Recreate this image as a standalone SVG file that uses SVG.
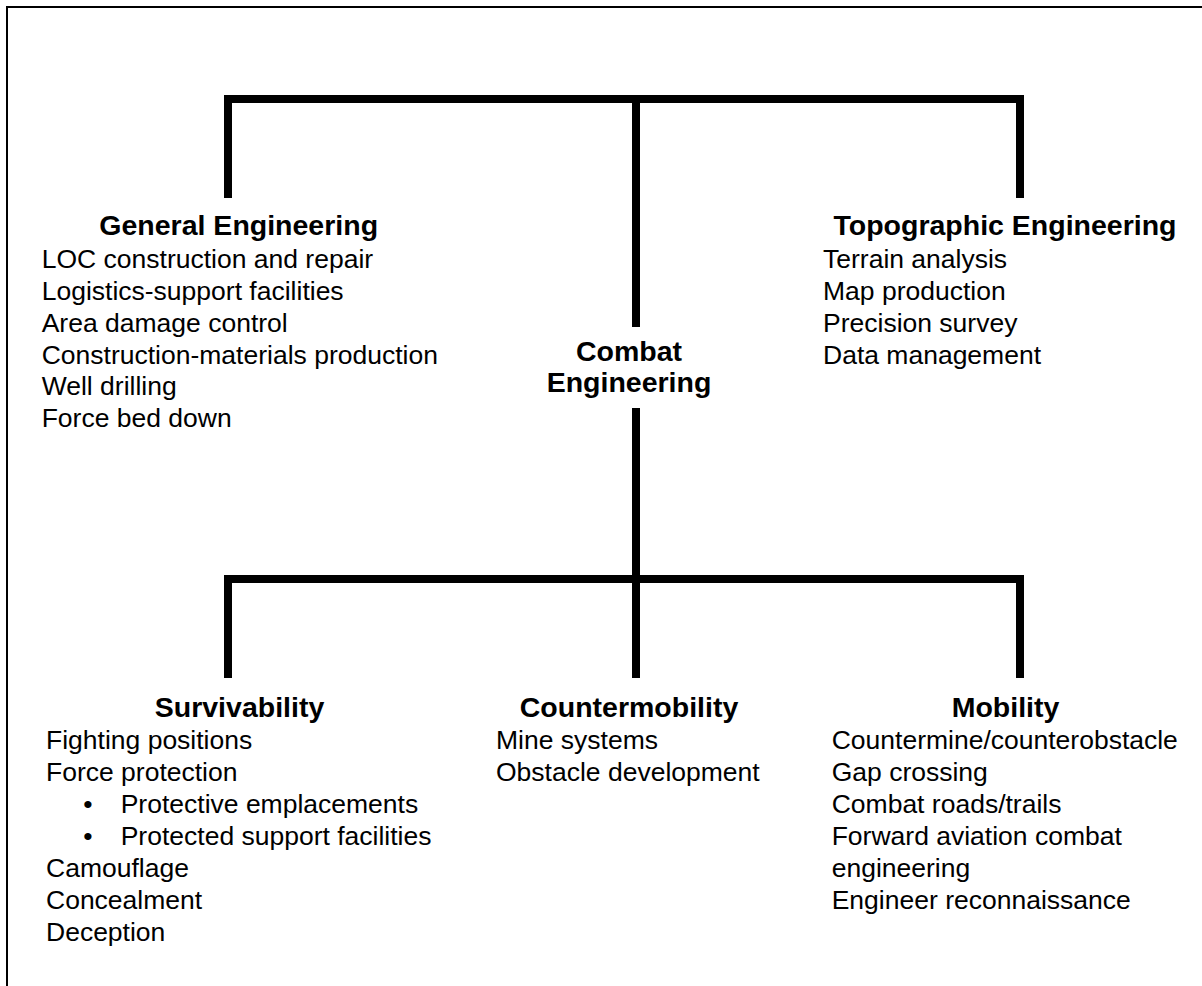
<svg xmlns="http://www.w3.org/2000/svg" width="1202" height="986" viewBox="0 0 1202 986">
<style>
text { font-family: "Liberation Sans", Arial, sans-serif; fill: #000; }
.h { font-weight: bold; font-size: 28.5px; text-anchor: middle; }
.t { font-size: 26.5px; }
.b { font-size: 26.5px; text-anchor: middle; }
.c { fill: none; stroke: #000; stroke-width: 8; stroke-linecap: butt; stroke-linejoin: miter; }
</style>
<rect width="1202" height="986" fill="#fff"/>
<path d="M7,986 V7 H1202" fill="none" stroke="#000" stroke-width="2"/>
<g id="connectors">
<path class="c" d="M228,198 V99 H1020 V198"/>
<path class="c" d="M636,99 V327"/>
<path class="c" d="M636,408 V678"/>
<path class="c" d="M228,678 V579 H1020 V678"/>
</g>
<g id="general-engineering">
<text class="h" x="238.7" y="235">General Engineering</text>
<text class="t" x="41.7" y="268">LOC construction and repair</text>
<text class="t" x="41.7" y="300">Logistics-support facilities</text>
<text class="t" x="41.7" y="331.7">Area damage control</text>
<text class="t" x="41.7" y="363.5">Construction-materials production</text>
<text class="t" x="41.7" y="395">Well drilling</text>
<text class="t" x="41.7" y="427">Force bed down</text>
</g>
<g id="topographic-engineering">
<text class="h" x="1005" y="235">Topographic Engineering</text>
<text class="t" x="823" y="268">Terrain analysis</text>
<text class="t" x="823" y="300">Map production</text>
<text class="t" x="823" y="331.7">Precision survey</text>
<text class="t" x="823" y="363.5">Data management</text>
</g>
<g id="combat-engineering">
<text class="h" x="629" y="361">Combat</text>
<text class="h" x="629" y="392">Engineering</text>
</g>
<g id="survivability">
<text class="h" x="239.5" y="717">Survivability</text>
<text class="t" x="46" y="749">Fighting positions</text>
<text class="t" x="46" y="781">Force protection</text>
<text class="b" x="88" y="813">•</text>
<text class="t" x="120.7" y="813">Protective emplacements</text>
<text class="b" x="88" y="845">•</text>
<text class="t" x="120.7" y="845">Protected support facilities</text>
<text class="t" x="46" y="877">Camouflage</text>
<text class="t" x="46" y="909">Concealment</text>
<text class="t" x="46" y="941">Deception</text>
</g>
<g id="countermobility">
<text class="h" x="629" y="717">Countermobility</text>
<text class="t" x="496" y="749">Mine systems</text>
<text class="t" x="496" y="781">Obstacle development</text>
</g>
<g id="mobility">
<text class="h" x="1005.5" y="717">Mobility</text>
<text class="t" x="831.7" y="749">Countermine/counterobstacle</text>
<text class="t" x="831.7" y="781">Gap crossing</text>
<text class="t" x="831.7" y="813">Combat roads/trails</text>
<text class="t" x="831.7" y="845">Forward aviation combat</text>
<text class="t" x="831.7" y="877">engineering</text>
<text class="t" x="831.7" y="909">Engineer reconnaissance</text>
</g>
</svg>
